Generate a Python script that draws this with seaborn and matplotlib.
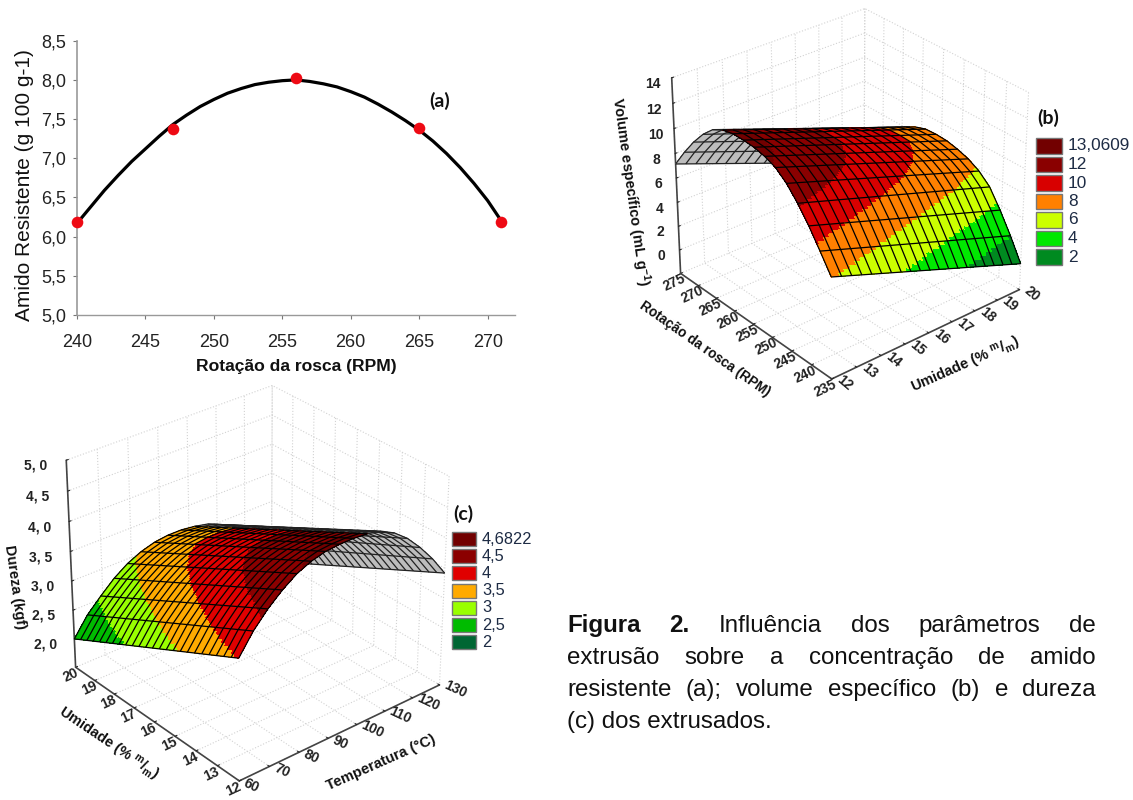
import numpy as np
import pandas as pd
import matplotlib
matplotlib.use("Agg")
import matplotlib.pyplot as plt
from matplotlib.patches import Rectangle
from matplotlib.colors import to_rgba
from mpl_toolkits.mplot3d import Axes3D  # noqa
import seaborn as sns

# ---- panel (a)
rot_points = [240, 247, 256, 265, 271]
starch_points = [6.19, 7.37, 8.02, 7.38, 6.19]
rot_fit = [240, 241, 242, 243, 244, 245, 246, 247, 248, 249, 250, 251, 252, 253, 254, 255, 256, 257, 258, 259, 260,
           261, 262, 263, 264, 265, 266, 267, 268, 269, 270, 271]
starch_fit = [6.17, 6.38, 6.59, 6.78, 6.96, 7.12, 7.28, 7.43, 7.55, 7.66, 7.75, 7.83, 7.89, 7.94, 7.97, 7.99, 8.0,
              7.98, 7.95, 7.91, 7.85, 7.78, 7.69, 7.59, 7.48, 7.36, 7.22, 7.06, 6.88, 6.68, 6.46, 6.2]
a_xticks = [240, 245, 250, 255, 260, 265, 270]
a_yticks = [5.0, 5.5, 6.0, 6.5, 7.0, 7.5, 8.0, 8.5]

# ---- panel (b): edge profiles along screw speed, at moisture 12 and 20
b_rot = [235 + 40 * k / 15 for k in range(16)]
b_moist = [12 + 8 * k / 20 for k in range(21)]
b_low = [6.15, 7.6, 9.0, 10.2, 11.2, 11.9, 12.25, 12.45, 12.5, 12.5, 12.3, 11.85, 11.0, 9.9, 8.6, 7.15]
b_high = [0.2, 2.0, 3.6, 5.0, 5.8, 6.3, 6.6, 6.8, 6.85, 6.8, 6.5, 6.0, 5.2, 4.0, 2.6, 1.0]
b_levels = [2, 4, 6, 8, 10, 12, 13.0609]
b_labels = ["13,0609", "12", "10", "8", "6", "4", "2"]
b_colors = ["#008a20", "#00e800", "#ccff00", "#ff8000", "#d80000", "#8a0000", "#720000"]

# ---- panel (c): edge profiles along temperature, at moisture 12 and 20
c_temp = [60 + 70 * k / 15 for k in range(16)]
c_moist = [12 + 8 * k / 24 for k in range(25)]
c_low = [3.52, 3.85, 4.1, 4.3, 4.46, 4.56, 4.62, 4.64, 4.64, 4.62, 4.57, 4.45, 4.27, 4.03, 3.75, 3.42]
c_high = [2.0, 2.32, 2.55, 2.76, 2.92, 3.03, 3.1, 3.13, 3.13, 3.1, 3.05, 2.95, 2.8, 2.6, 2.3, 1.92]
c_levels = [2, 2.5, 3, 3.5, 4, 4.5, 4.6822]
c_labels = ["4,6822", "4,5", "4", "3,5", "3", "2,5", "2"]
c_colors = ["#006633", "#00bb00", "#99ff00", "#ffaa00", "#e00000", "#8b0000", "#720000"]

caption = [["Influência", "dos", "parâmetros", "de"],
           ["extrusão", "sobre", "a", "concentração", "de", "amido"],
           ["resistente", "(a);", "volume", "específico", "(b)", "e", "dureza"]]

W, H = 1133, 800
sns.set_theme(style="white")
plt.rcParams["font.family"] = ["Liberation Sans", "DejaVu Sans"]
plt.rcParams["mathtext.default"] = "regular"
fig = plt.figure(figsize=(W / 100, H / 100), dpi=100, facecolor="white")


def rect(l, t, r, b):
    return [l / W, 1 - b / H, (r - l) / W, (b - t) / H]


def ptext(x, y, s, **kw):
    kw.setdefault("color", "#111111")
    return fig.text(x / W, 1 - y / H, s, **kw)


# ---------------- (a)
ax = fig.add_axes(rect(77, 40.7, 515, 315))
sns.lineplot(x=rot_fit, y=starch_fit, color="black", linewidth=2.3, ax=ax)
sns.scatterplot(x=rot_points, y=starch_points, color="#ee0a14", s=70, linewidth=0, ax=ax, zorder=3, clip_on=False)
ax.set_xlim(240, 272)
ax.set_ylim(5, 8.5)
ax.set_xticks(a_xticks)
ax.set_yticks(a_yticks)
ax.set_yticklabels([f"{v:.1f}".replace(".", ",") for v in a_yticks])
ax.tick_params(axis="x", pad=11)
ax.tick_params(axis="both", labelsize=13, length=3, width=0.8, color="#777777", labelcolor="#222222",
               left=True, bottom=True)
ax.tick_params(axis="y", pad=5)
for s in ("top", "right"):
    ax.spines[s].set_visible(False)
ax.spines["left"].set_color("#999999")
ax.spines["left"].set_linestyle((0, (1, 1)))
ax.spines["left"].set_linewidth(1.2)
ax.spines["bottom"].set_color("#999999")
ax.spines["bottom"].set_linewidth(1.0)
ptext(296, 366, "Rotação da rosca (RPM)", ha="center", va="center", fontsize=12.6, fontweight="bold")
ptext(25, 185, "Amido Resistente (g 100 g-1)", ha="center", va="center", rotation=90, fontsize=15)
ptext(440, 101, "(a)", ha="center", va="center", fontsize=14, fontweight="bold", family="Lato")


# ---------------- 3D helper
def surface3d(ax3, u, v, low, high, levels, colors, split, profile_on_y):
    u, v = np.asarray(u), np.asarray(v)
    low, high = np.asarray(low), np.asarray(high)
    sub = 8
    cols = [to_rgba(c) for c in colors]

    def xyz(uu, vv):
        ff = (vv - v[0]) / (v[-1] - v[0])
        lo = np.interp(uu, u, low)
        hi = np.interp(uu, u, high)
        Z = lo[None, :] + ff[:, None] * (hi - lo)[None, :]
        UU, VV = np.meshgrid(uu, vv)
        return (UU, VV, Z) if not profile_on_y else (VV, UU, Z)

    def fine(a):
        return np.concatenate([np.linspace(a[i], a[i + 1], sub, endpoint=False) for i in range(len(a) - 1)] + [a[-1:]])

    for part, (seg, zbase) in enumerate(((u[split:], 1), (u[:split + 1], 3))):
        uu, vv = fine(seg), fine(v)
        A, B, Z = xyz(uu, vv)
        if part == 0:
            fc = np.tile(np.array(to_rgba("#bdbdbd")), Z.shape + (1,))
        else:
            zc = Z.copy()
            zc[:-1, :-1] = (Z[:-1, :-1] + Z[1:, 1:] + Z[1:, :-1] + Z[:-1, 1:]) / 4
            idx = np.clip(np.searchsorted(levels, zc), 0, len(cols) - 1)
            fc = np.array(cols)[idx]
        ax3.plot_surface(A, B, Z, facecolors=fc, rstride=1, cstride=1, shade=False, linewidth=0,
                         antialiased=False, zorder=zbase)
        A, B, Z = xyz(seg, v)
        lc = "#222222" if part == 0 else "black"
        ax3.plot_wireframe(A, B, Z, rstride=1, cstride=0, color=lc, linewidth=0.9, zorder=zbase + 1)
        ax3.plot_wireframe(A, B, Z, rstride=0, cstride=1, color=lc, linewidth=0.9, zorder=zbase + 1)


def style3d(ax3, xt, yt, zt, zl, xlim, ylim, zlim, rotx, roty, rotz, pads):
    ax3.set_xlim(*xlim)
    ax3.set_ylim(*ylim)
    ax3.set_zlim(*zlim)
    ax3.set_xticks(xt)
    ax3.set_yticks(yt)
    ax3.set_zticks(zt)
    kw = dict(fontsize=10, fontweight="bold", color="#222222")
    ax3.set_xticklabels([str(t) for t in xt], rotation=rotx, ha="left", va="center", **kw)
    ax3.set_yticklabels([str(t) for t in yt], rotation=roty, ha="center", va="center", **kw)
    ax3.set_zticklabels(zl, rotation=rotz, ha="center", va="top", **kw)
    for axis, p in zip((ax3.xaxis, ax3.yaxis, ax3.zaxis), pads):
        axis.set_pane_color((1, 1, 1, 0))
        axis.pane.set_edgecolor("#cfcfcf")
        axis.pane.set_linestyle(":")
        axis._axinfo["grid"].update(color="#d2d2d2", linewidth=0.8, linestyle=":")
        axis._axinfo["tick"].update(inward_factor=0.0, outward_factor=0.12, linewidth={True: 0.8, False: 0.8})
        axis.line.set_color("#444444")
        axis.line.set_linewidth(1.2)
        axis.set_tick_params(pad=p)
    ax3.patch.set_alpha(0)
    ax3.grid(True)


# ---------------- (b)
cxb, cyb = 843.6, 191.2
axb = fig.add_axes(rect(cxb - 200, cyb - 200, cxb + 200, cyb + 200), projection="3d", computed_zorder=False)
axb.set_proj_type("persp", focal_length=1.0097)
axb.view_init(elev=29.9463, azim=-129.7397)
axb.set_box_aspect((1.0927, 1.0867, 1), zoom=1.0097)
surface3d(axb, b_rot, b_moist, b_low, b_high, b_levels, b_colors, 10, True)
style3d(axb, list(range(12, 21)), list(range(235, 276, 5)), list(range(0, 15, 2)),
        [str(t) for t in range(0, 15, 2)], (12, 20), (235, 275), (-2, 14), -40, 25, 0, (-6, -3, 0))
ptext(630, 192, "Volume específico (mL g$^{-1}$)", ha="center", va="center", rotation=-82, fontsize=10.5,
      fontweight="bold")
ptext(705, 349, "Rotação da rosca (RPM)", ha="center", va="center", rotation=-35, fontsize=9.8, fontweight="bold")
ptext(966, 365, "Umidade (% $^{m}/_{m}$)", ha="center", va="center", rotation=24, fontsize=10.5, fontweight="bold")

# ---------------- (c)
cxc, cyc = 251.06, 580.14
axc = fig.add_axes(rect(cxc - 200, cyc - 200, cxc + 200, cyc + 200), projection="3d", computed_zorder=False)
axc.set_proj_type("persp", focal_length=1.095)
axc.view_init(elev=30.0625, azim=-129.8988)
axc.set_box_aspect((1.1025, 1.1049, 1), zoom=1.0798)
surface3d(axc, c_temp, c_moist, c_low, c_high, c_levels, c_colors, 9, False)
style3d(axc, list(range(60, 131, 10)), list(range(12, 21)), [2, 2.5, 3, 3.5, 4, 4.5, 5],
        ["2, 0", "2, 5", "3, 0", "3, 5", "4, 0", "4, 5", "5, 0"], (60, 130), (12, 20), (1.5, 5), -25, 25, 0,
        (-6, -4, 4))
ptext(15, 587, "Dureza (kgf)", ha="center", va="center", rotation=-82, fontsize=10.5, fontweight="bold")
ptext(108, 744, "Umidade (% $^{m}/_{m}$)", ha="center", va="center", rotation=-34, fontsize=10.5, fontweight="bold")
ptext(381, 763, "Temperatura (°C)", ha="center", va="center", rotation=24, fontsize=10.5, fontweight="bold")


# ---------------- legends
def legend(x0, x1, y0, h, step, tx, labels, colors, fs):
    for i, (lab, col) in enumerate(zip(labels, colors[::-1])):
        fig.add_artist(Rectangle((x0 / W, 1 - (y0 + i * step + h) / H), (x1 - x0) / W, h / H,
                                 transform=fig.transFigure, facecolor=col, edgecolor="#777777", linewidth=1))
        ptext(tx, y0 + i * step + h / 2, lab, ha="left", va="center", fontsize=fs, color="#1d2b44")


ptext(1037, 118, "(b)", ha="left", va="center", fontsize=14, fontweight="bold", family="Lato")
legend(1036, 1062, 138.5, 15, 18.5, 1068, b_labels, b_colors, 12.4)
ptext(453, 514, "(c)", ha="left", va="center", fontsize=14, fontweight="bold", family="Lato")
legend(452, 476, 532, 14, 17.2, 482, c_labels, c_colors, 11.8)

# ---------------- caption
CAP = 17.4
LEFT, RIGHT = 567, 1096
r = fig.canvas.get_renderer()


def width(s, **kw):
    t = ptext(0, 0, s, fontsize=CAP, **kw)
    w = t.get_window_extent(r).width
    t.remove()
    return w


rows = [[("Figura", "bold"), ("2.", "bold")] + [(x, "normal") for x in caption[0]]] + \
       [[(x, "normal") for x in c] for c in caption[1:]]
for line, base in zip(rows, (632, 664, 696)):
    ws = [width(s, fontweight=f) for s, f in line]
    gap = (RIGHT - LEFT - sum(ws)) / (len(line) - 1)
    x = LEFT
    for (s, f), w_ in zip(line, ws):
        ptext(x, base, s, fontsize=CAP, fontweight=f, ha="left", va="baseline", color="#111111")
        x += w_ + gap
ptext(LEFT, 728, "(c) dos extrusados.", fontsize=CAP, ha="left", va="baseline")

fig.savefig("out.png", dpi=100)
